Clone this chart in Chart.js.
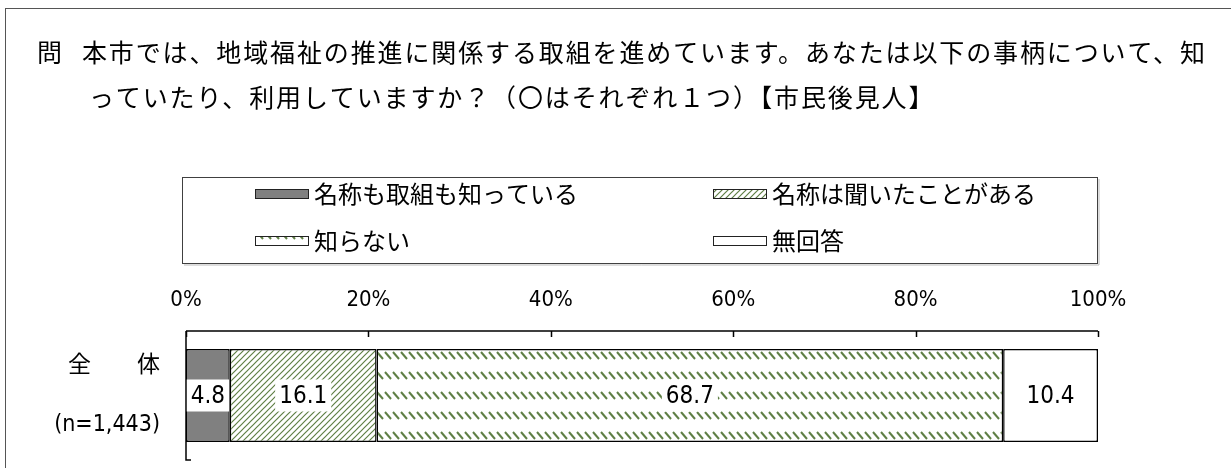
<!DOCTYPE html>
<html>
<head>
<meta charset="utf-8">
<script src="https://cdn.jsdelivr.net/npm/chart.js@4"></script>
<style>
  html, body { margin: 0; background: #fff; }
</style>
</head>
<body>
<canvas id="chart" width="1231" height="468"></canvas>
<script>
// question text, categories and values
const questionMark = '問';
const questionLines = [
  '本市では、地域福祉の推進に関係する取組を進めています。あなたは以下の事柄について、知',
  'っていたり、利用していますか？（〇はそれぞれ１つ）【市民後見人】'
];
const groups = [['全　　体', '(n=1,443)']];
const seriesNames = ['名称も取組も知っている', '名称は聞いたことがある', '知らない', '無回答'];
const knowBoth = [4.8];
const heardName = [16.1];
const dontKnow = [68.7];
const noAnswer = [10.4];

const JP = '"Noto Sans CJK JP", sans-serif';
const NARROW = '"Liberation Sans Narrow", "DejaVu Sans Condensed", "Noto Sans CJK JP", sans-serif';
const GREEN = '#5f7f45';

const canvas = document.getElementById('chart');
const ctx = canvas.getContext('2d');

function makePattern(w, h, draw) {
  const c = document.createElement('canvas');
  c.width = w; c.height = h;
  const g = c.getContext('2d');
  g.fillStyle = '#fff';
  g.fillRect(0, 0, w, h);
  draw(g);
  return ctx.createPattern(c, 'repeat');
}

const diagPattern = makePattern(6, 6, g => {
  g.strokeStyle = GREEN;
  g.lineWidth = 1.2;
  g.beginPath();
  g.moveTo(-1, 7); g.lineTo(7, -1);
  g.moveTo(-1, 1); g.lineTo(1, -1);
  g.moveTo(5, 7); g.lineTo(7, 5);
  g.stroke();
});

const dashPattern = makePattern(8, 20, g => {
  g.strokeStyle = GREEN;
  g.lineWidth = 2;
  g.beginPath();
  g.moveTo(1, 12); g.lineTo(7, 19);
  g.stroke();
});

// frame, question and legend box
const frame = {
  id: 'frame',
  beforeDraw(chart) {
    const c = chart.ctx;
    c.save();
    c.strokeStyle = '#555';
    c.lineWidth = 1;
    c.strokeRect(5.5, 8.5, 1300, 600);

    c.fillStyle = '#000';
    c.textBaseline = 'middle';
    c.font = '25px ' + JP;
    c.fillText(questionMark, 37, 52);
    const n = questionLines[0].length;
    const w = c.measureText(questionLines[0]).width;
    c.letterSpacing = ((1125 - w) / n).toFixed(2) + 'px';
    c.fillText(questionLines[0], 82, 52);
    c.fillText(questionLines[1], 89, 97);
    c.letterSpacing = '0px';

    // legend
    c.strokeStyle = '#404040';
    c.strokeRect(182.5, 177.5, 915, 86);
    c.strokeStyle = '#bbb';
    c.beginPath();
    c.moveTo(184, 265); c.lineTo(1099, 265); c.lineTo(1099, 179);
    c.stroke();

    const cols = [255, 713], rows = [194, 241];
    c.font = '24px ' + JP;
    chart.data.datasets.forEach((ds, i) => {
      const x = cols[i % 2], y = rows[Math.floor(i / 2)];
      c.fillStyle = ds.backgroundColor;
      c.fillRect(x, y - 5, 54, 10);
      c.strokeStyle = '#222';
      c.lineWidth = 1;
      c.strokeRect(x + 0.5, y - 4.5, 53, 9);
      c.fillStyle = '#000';
      c.fillText(ds.label, x + 59, y);
    });
    c.restore();
  }
};

// top axis line with inward ticks, and the category axis line
const axes = {
  id: 'axes',
  afterDatasetsDraw(chart) {
    const c = chart.ctx, xs = chart.scales.x, a = chart.chartArea;
    c.save();
    c.strokeStyle = '#000';
    c.lineWidth = 1.5;
    c.beginPath();
    c.moveTo(xs.left, a.top); c.lineTo(xs.right, a.top);
    xs.ticks.forEach(t => {
      const px = Math.round(xs.getPixelForValue(t.value)) + 0.5;
      c.moveTo(px, a.top); c.lineTo(px, a.top + 6);
    });
    c.moveTo(xs.left, a.top); c.lineTo(xs.left, a.bottom);
    c.lineTo(xs.left + 5, a.bottom);
    c.stroke();
    c.restore();
  }
};

// value labels on white boxes
const valueLabels = {
  id: 'valueLabels',
  afterDatasetsDraw(chart) {
    const c = chart.ctx;
    c.save();
    c.font = '24px ' + NARROW;
    c.textAlign = 'center';
    c.textBaseline = 'middle';
    chart.data.datasets.forEach((ds, i) => {
      chart.getDatasetMeta(i).data.forEach((bar, j) => {
        const t = ds.data[j].toFixed(1);
        const w = c.measureText(t).width + 8;
        const cx = (bar.x + bar.base) / 2;
        c.fillStyle = '#fff';
        c.fillRect(cx - w / 2, bar.y - 16, w, 32);
        c.fillStyle = '#000';
        c.fillText(t, cx, bar.y + 1);
      });
    });
    c.restore();
  }
};

new Chart(ctx, {
  type: 'bar',
  data: {
    labels: groups,
    datasets: [
      { label: seriesNames[0], data: knowBoth, backgroundColor: '#808080' },
      { label: seriesNames[1], data: heardName, backgroundColor: diagPattern },
      { label: seriesNames[2], data: dontKnow, backgroundColor: dashPattern },
      { label: seriesNames[3], data: noAnswer, backgroundColor: '#fff' }
    ]
  },
  options: {
    indexAxis: 'y',
    responsive: false,
    animation: false,
    layout: { padding: { left: 0, right: 133, top: 250, bottom: 8 } },
    datasets: {
      bar: {
        barPercentage: 0.72,
        categoryPercentage: 1,
        borderColor: '#000',
        borderWidth: 1.5,
        borderSkipped: false
      }
    },
    scales: {
      x: {
        position: 'top',
        stacked: true,
        min: 0,
        max: 100,
        grid: { display: false },
        border: { display: false },
        ticks: {
          stepSize: 20,
          padding: 10,
          color: '#000',
          maxRotation: 0,
          font: { family: NARROW, size: 22 },
          callback: v => v + '%'
        },
        afterFit: s => { s.height = 81; }
      },
      y: {
        stacked: true,
        grid: { display: false },
        border: { display: false },
        ticks: {
          padding: 18,
          color: '#000',
          font: { family: NARROW, size: 23, lineHeight: 2.6 }
        },
        afterFit: s => {
          s.width = 186;
          s.paddingTop = 0;
          s.paddingBottom = 0;
        }
      }
    },
    plugins: {
      legend: { display: false },
      tooltip: { enabled: false }
    }
  },
  plugins: [frame, axes, valueLabels]
});
</script>
</body>
</html>
